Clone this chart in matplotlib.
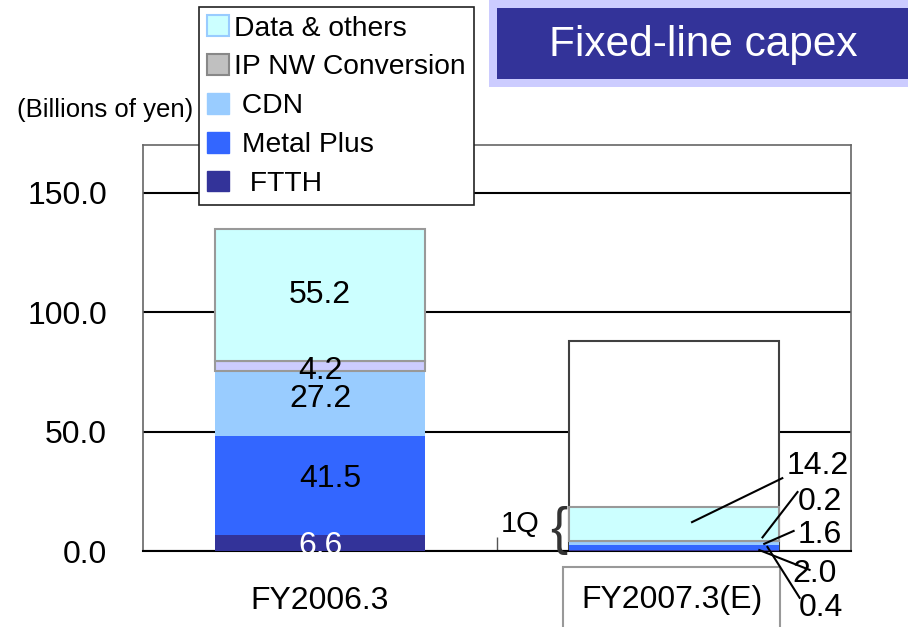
import matplotlib.pyplot as plt
from matplotlib.patches import Patch, Rectangle

plt.rcParams['font.family'] = ['Liberation Sans', 'DejaVu Sans']

# data (billions of yen)
categories = ['FY2006.3', 'FY2007.3(E)']
series = ['FTTH', 'Metal Plus', 'CDN', 'IP NW Conversion', 'Data & others']
fy2006 = [6.6, 41.5, 27.2, 4.2, 55.2]
fy2007_1q = [0.4, 2.0, 1.6, 0.2, 14.2]
fy2007_plan = 88.0
yticks = [0.0, 50.0, 100.0, 150.0]

colors_06 = ['#333399', '#3366FF', '#99CCFF', '#CCCCFF', '#CCFFFF']
colors_07 = ['#333399', '#3366FF', '#99CCFF', '#C0C0C0', '#CCFFFF']
edges = [None, None, None, '#999999', '#999999']

fig = plt.figure(figsize=(9.08, 6.27), dpi=100)
ax = fig.add_axes([0.1575, 0.1212, 0.7797, 0.6475])

x = [0, 1]
w = 0.593
fs = 23

# full-year estimate outline
ax.bar(x[1], fy2007_plan, w, color='white', edgecolor='#404040', lw=1.5, zorder=2)

bottom06 = 0.0
bottom07 = 0.0
for i, name in enumerate(series):
    ec = edges[i] if edges[i] else colors_06[i]
    ax.bar(x[0], fy2006[i], w, bottom=bottom06, color=colors_06[i],
           edgecolor=ec, lw=1.5 if edges[i] else 0, zorder=3)
    ax.bar(x[1], fy2007_1q[i], w, bottom=bottom07, color=colors_07[i],
           edgecolor=ec, lw=1.5 if edges[i] else 0, zorder=3)
    bottom06 += fy2006[i]
    bottom07 += fy2007_1q[i]

# labels on FY2006.3 bar
b = 0.0
offs = [-1.0, 3.0, 2.0, -2.0, 0.0]
dx = [0.0, 0.03, 0.0, 0.0, 0.0]
for i, v in enumerate(fy2006):
    mid = b + v / 2 + offs[i]
    ax.text(x[0] + dx[i], mid, f'{v:.1f}', ha='center', va='center', fontsize=fs,
            color='white' if i == 0 else 'black', zorder=5)
    b += v

# leader-line labels for FY2007.3 1Q
cum = [0.0]
for v in fy2007_1q:
    cum.append(cum[-1] + v)
anchors = [(1.264, cum[0] + 1.7), (1.241, cum[1] + 0.0), (1.255, cum[2] + 0.6),
           (1.250, cum[3] + 1.7), (1.051, cum[4] + 7.9)]
ends = [(1.355, -19.6), (1.383, -7.9), (1.338, 8.4), (1.349, 24.7), (1.306, 30.5)]
labpos = [(1.414, -23.8), (1.397, -9.6), (1.411, 6.7), (1.411, 20.5), (1.406, 35.5)]
for i, v in enumerate(fy2007_1q):
    ax.plot([anchors[i][0], ends[i][0]], [anchors[i][1], ends[i][1]],
            color='black', lw=1.5, clip_on=False, zorder=6)
    ax.text(labpos[i][0], labpos[i][1], f'{v:.1f}', ha='center', va='center',
            fontsize=fs, clip_on=False, zorder=6)

# 1Q brace
ax.text(0.674, cum[-1] / 2 - 0.6, '{', ha='center', va='center', fontsize=37,
        fontweight='light', color='#333333', zorder=6)
ax.text(0.566, cum[-1] / 2 + 2.0, '1Q', ha='center', va='center', fontsize=21, zorder=6)

# axes styling
ax.set_xlim(-0.5, 1.5)
ax.set_ylim(0, 170)
ax.set_yticks(yticks)
ax.set_yticklabels([f'{t:.1f}' for t in yticks], fontsize=fs)
ax.tick_params(axis='y', length=0, pad=26)
ax.yaxis.grid(True, color='black', lw=1.5)
ax.set_axisbelow(True)
ax.set_xticks([])
ax.set_xticks([0.5], minor=True)
ax.tick_params(axis='x', which='minor', direction='in', length=10, width=1, color='#555555')
for s in ['top', 'right', 'left']:
    ax.spines[s].set_color('#666666')
    ax.spines[s].set_linewidth(1.2)
ax.spines['bottom'].set_color('black')
ax.spines['bottom'].set_linewidth(1.5)

ax.text(x[0], -0.123, categories[0], transform=ax.get_xaxis_transform(),
        ha='center', va='center', fontsize=fs)
ax.text(0.993, -0.12, categories[1], transform=ax.get_xaxis_transform(),
        ha='center', va='center', fontsize=fs,
        bbox=dict(boxstyle='square,pad=0.55', fc='white', ec='#999999', lw=1.5))

# legend
handles = [
    Patch(fc='#CCFFFF', ec='#99CCFF', lw=1.5, label='Data & others'),
    Patch(fc='#C0C0C0', ec='#888888', lw=1.5, label='IP NW Conversion'),
    Patch(fc='#99CCFF', ec='#99CCFF', label=' CDN'),
    Patch(fc='#3366FF', ec='#3366FF', label=' Metal Plus'),
    Patch(fc='#333399', ec='#333399', label='  FTTH'),
]
leg = fig.legend(handles=handles, loc='upper left', bbox_to_anchor=(199 / 908, 1 - 7 / 627),
                 fontsize=20.3, frameon=True, fancybox=False, framealpha=1,
                 edgecolor='#222222', handlelength=0.75, handleheight=0.75,
                 handletextpad=0.2, labelspacing=0.45, borderpad=0.3, borderaxespad=0)
leg.get_frame().set_linewidth(1.2)

# unit label
fig.text(193 / 908, 1 - 110 / 627, '(Billions of yen)', ha='right', va='center',
         fontsize=18.5)

# title box
fig.patches.append(Rectangle((489 / 908, 1 - 87 / 627), 1, 87 / 627,
                             transform=fig.transFigure, fc='#CCCCFF', ec='none', zorder=0))
fig.patches.append(Rectangle((497 / 908, 1 - 79 / 627), 1, 71 / 627,
                             transform=fig.transFigure, fc='#333399', ec='none', zorder=1))
fig.text(703 / 908, 1 - 45 / 627, 'Fixed-line capex', ha='center', va='center',
         fontsize=30.5, color='white')

fig.savefig('out.png', dpi=100)
